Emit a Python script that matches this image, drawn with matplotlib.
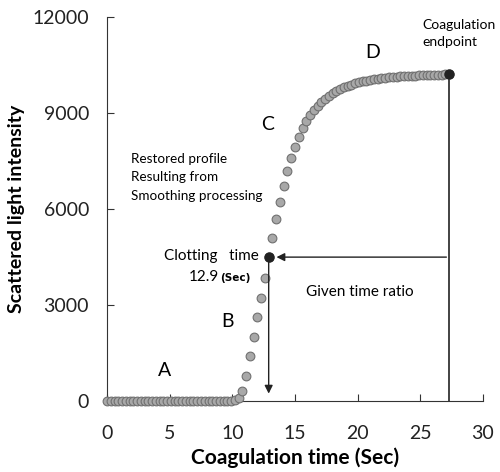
import matplotlib.pyplot as plt

plt.rcParams['font.family'] = ['Lato', 'DejaVu Sans']

# sampled every 0.3 s from 0 to 27.3 s
time = [round(i * 0.3, 1) for i in range(92)]
flat = [0] * 34  # 0.0 .. 9.9
signal = flat + [
    30, 100, 310, 790, 1400, 2010, 2620, 3210, 3850, 4500,   # 10.2 .. 12.9
    5110, 5680, 6230, 6730, 7200, 7610, 7950, 8260, 8520, 8750,  # 13.2 .. 15.9
    8930, 9080, 9220, 9340, 9450, 9540, 9620, 9690, 9750, 9800,  # 16.2 .. 18.9
    9850, 9890, 9930, 9960, 9990, 10010, 10035, 10055, 10075, 10090,  # 19.2 .. 21.9
    10105, 10115, 10125, 10135, 10145, 10152, 10160, 10166, 10172, 10178,  # 22.2 .. 24.9
    10183, 10188, 10192, 10196, 10200, 10203, 10206, 10210,  # 25.2 .. 27.3
]

clot_time, clot_value = 12.9, 4500
end_time, end_value = 27.3, 10210

fig = plt.figure(figsize=(5.0, 4.72), dpi=100)
ax = fig.add_axes([0.214, 0.150, 0.752, 0.814])

ax.plot(time, signal, 'o', ms=6.3, mfc='#a8a8a8', mec='#707070', mew=0.8,
        clip_on=False, zorder=3)
ax.plot([clot_time, end_time], [clot_value, end_value], 'o', ms=6.5,
        color='#222222', clip_on=False, zorder=4)

# vertical arrow from clotting point to the axis
ax.annotate('', xy=(clot_time, 150), xytext=(clot_time, clot_value),
            arrowprops=dict(arrowstyle='-|>', color='#222222', lw=1,
                            mutation_scale=12))
# horizontal arrow from endpoint line to clotting point
ax.annotate('', xy=(13.3, clot_value), xytext=(end_time, clot_value),
            arrowprops=dict(arrowstyle='-|>', color='#222222', lw=1,
                            mutation_scale=12))
ax.plot([end_time, end_time], [0, end_value], color='#222222', lw=1.2, zorder=2)

ax.set_xlim(0, 30)
ax.set_ylim(0, 12000)
ax.set_xticks([0, 5, 10, 15, 20, 25, 30])
ax.set_yticks([0, 3000, 6000, 9000, 12000])
ax.tick_params(direction='in', length=5, labelsize=14,
               color='#333333', labelcolor='#222222')
ax.tick_params(axis='y', pad=13)
ax.tick_params(axis='x', pad=17)
for s in ['top', 'right']:
    ax.spines[s].set_visible(False)
for s in ['left', 'bottom']:
    ax.spines[s].set_color('#333333')

ax.set_xlabel('Coagulation time (Sec)', fontsize=15, fontweight='bold', labelpad=4)
ax.set_ylabel('Scattered light intensity', fontsize=14, fontweight='bold', labelpad=5)

ax.text(4.6, 970, 'A', fontsize=14, ha='center', va='center')
ax.text(9.6, 2500, 'B', fontsize=14, ha='center', va='center')
ax.text(12.85, 8650, 'C', fontsize=14, ha='center', va='center')
ax.text(21.2, 10900, 'D', fontsize=14, ha='center', va='center')

ax.text(25.2, 11480, 'Coagulation\nendpoint', fontsize=10, ha='left', va='center',
        linespacing=1.45)
ax.text(1.9, 7000, 'Restored profile\nResulting from\nSmoothing processing',
        fontsize=9.7, ha='left', va='center', linespacing=1.65)
ax.text(12.1, 4530, 'Clotting   time', fontsize=11, ha='right', va='center')
ax.text(6.5, 3880, '12.9', fontsize=11, ha='left', va='center')
ax.text(9.0, 3860, '(Sec)', fontsize=7.5, fontweight='bold', ha='left', va='center',
        family='DejaVu Sans')
ax.text(15.9, 3400, 'Given time ratio', fontsize=11, ha='left', va='center')

fig.savefig('out.png', dpi=100)
